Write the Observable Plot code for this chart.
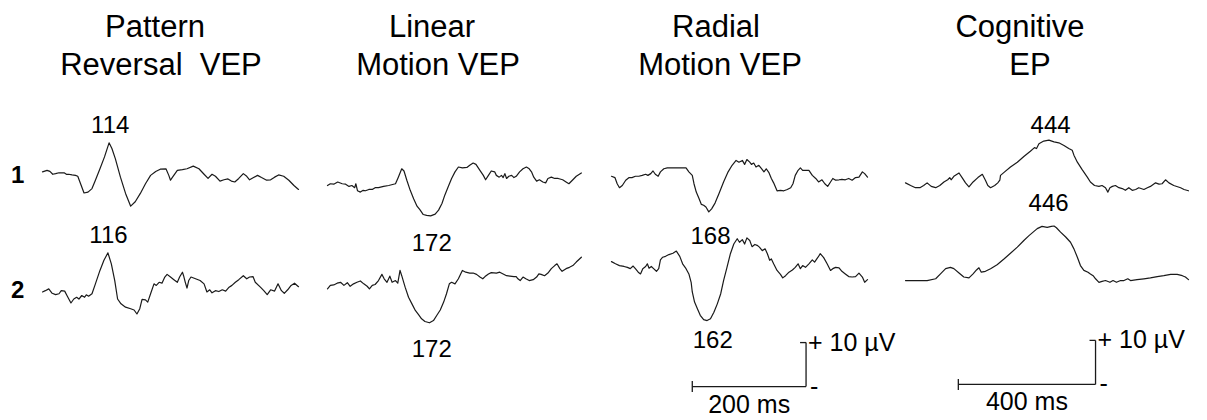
<!DOCTYPE html>
<html><head><meta charset="utf-8">
<script src="https://cdn.jsdelivr.net/npm/d3@7"></script>
<script src="https://cdn.jsdelivr.net/npm/@observablehq/plot@0.6"></script>
<style>
body{margin:0;background:#fff;}
#fig{position:relative;width:1207px;height:420px;overflow:hidden;background:#fff;font-family:"Liberation Sans",Arial,sans-serif;color:#000;}
.title{position:absolute;width:400px;text-align:center;font-size:31px;line-height:31px;white-space:pre;}
.rowlab{position:absolute;font-size:24px;line-height:24px;font-weight:bold;}
.panel{position:absolute;top:100px;}
</style></head><body><div id="fig"></div>
<script>
// ---- data ----
const titles = [["Pattern","Reversal  VEP"],["Linear","Motion VEP"],["Radial","Motion VEP"],["Cognitive","EP"]];
const rowLabels = ["1","2"];
const rowOffsetUv = [28, 0];
const epochMs = [450, 450, 450, 825];

const patternRow1 = [[0,0.1],[8,0.45],[13,0.2],[18,-0.45],[23,-0.3],[29,-0.1],[33,-0.15],[38,-0.1],[42,-0.45],[46,-0.45],[52,-0.6],[58,-0.7],[62,-0.9],[73,-4.7],[80,-4.5],[87,-3.7],[93,-1.8],[101,0.8],[109,3.5],[117,6.7],[122,5.4],[128,3.1],[137,-1.1],[146,-4.8],[155,-7.7],[163,-6.7],[172,-4.8],[181,-2.6],[190,-0.7],[199,0.2],[207,0.7],[217,0.8],[222,-0.7],[225,-1.8],[228,-1.2],[237,0.45],[246,0.6],[254,0.8],[265,1.4],[275,0.8],[284,-0.45],[291,-1.4],[298,-0.45],[304,-0.9],[312,-2.0],[319,-1.7],[326,-1.5],[332,-2.0],[338,-2.2],[345,-1.4],[353,-0.3],[359,-0.9],[364,-1.7],[371,-1.2],[378,-0.7],[385,-1.2],[394,-1.8],[401,-1.7],[408,-1.1],[415,-0.6],[424,-0.9],[433,-1.8],[442,-3.0],[450,-3.9]];
const patternRow2 = [[0,0.8],[5,1.1],[11,1.5],[17,0.5],[23,0.2],[29,0.4],[33,1.1],[39,1.0],[43,0],[50,-1.7],[55,-0.8],[60,-0.4],[64,-0.8],[69,0],[74,-0.4],[77,0.15],[81,-0.15],[87,0.4],[93,2.65],[101,5.7],[108,8.0],[115,9.7],[121,7.2],[127,3.4],[132,-0.8],[138,-1.9],[146,-2.65],[155,-3.0],[161,-3.3],[166,-4.2],[171,-3.0],[175,-0.9],[181,-1.0],[185,-1.5],[190,0.4],[196,2.65],[200,2.3],[205,3.0],[210,2.8],[215,4.2],[219,4.8],[225,4.2],[231,3.6],[237,3.0],[241,4.2],[246,5.3],[248,4.5],[251,3.0],[254,1.7],[257,3.4],[261,4.2],[269,3.8],[277,3.4],[284,2.65],[289,0.8],[294,1.3],[298,0.6],[304,1.1],[310,0.9],[316,1.3],[322,1.0],[328,1.9],[333,2.3],[339,3.0],[345,3.6],[353,4.5],[359,3.8],[364,4.2],[370,4.3],[374,3.0],[383,1.9],[389,1.1],[395,0.2],[401,1.3],[408,1.0],[414,2.65],[420,1.1],[425,0.5],[431,1.3],[437,2.3],[443,2.8],[450,2.0]];
const linearRow1 = [[0,-3.0],[5,-2.6],[11,-2.7],[18,-2.2],[26,-2.6],[32,-2.7],[38,-3.2],[43,-3.0],[48,-3.5],[50,-2.6],[53,-4.2],[58,-4.5],[63,-4.1],[67,-4.2],[73,-3.9],[79,-3.9],[84,-3.5],[90,-3.5],[99,-3.2],[108,-3.0],[120,-2.6],[125,-1.1],[131,0.8],[135,0.3],[140,-1.8],[146,-4.1],[152,-6.0],[158,-7.7],[163,-8.5],[169,-9.6],[175,-9.8],[182,-9.9],[190,-9.5],[196,-8.6],[202,-7.1],[207,-5.2],[213,-3.3],[219,-1.4],[225,0.1],[231,1.2],[238,1.0],[246,1.1],[251,1.6],[257,2.1],[262,1.8],[269,0.45],[275,-0.7],[279,-1.7],[284,-0.7],[289,0.3],[295,0.1],[298,-0.7],[303,-1.1],[307,-0.7],[310,-1.2],[313,-0.3],[316,-1.4],[320,-0.9],[325,-0.7],[329,-1.2],[333,-0.9],[339,0.1],[345,0.8],[351,1.2],[356,0.8],[360,0.1],[364,-1.1],[369,-2.0],[374,-1.7],[380,-2.2],[385,-2.4],[389,-1.4],[395,-1.1],[401,-1.4],[407,-1.4],[415,-1.7],[421,-2.2],[426,-2.6],[433,-1.7],[439,-0.9],[448,-0.15]];
const linearRow2 = [[0,1.5],[5,2.3],[11,2.4],[17,2.8],[23,3.0],[29,2.3],[35,2.9],[40,2.1],[46,2.65],[52,3.0],[58,3.3],[64,2.65],[70,2.1],[74,1.5],[79,2.3],[84,2.5],[90,3.4],[96,4.8],[100,3.8],[105,3.0],[110,4.4],[114,3.0],[120,3.4],[124,2.8],[128,5.7],[131,4.5],[137,1.9],[143,-0.4],[149,-1.9],[155,-3.4],[161,-4.4],[166,-5.3],[172,-5.9],[180,-6.2],[187,-5.7],[193,-4.5],[199,-3.3],[205,-1.5],[210,0.4],[215,2.65],[219,3.0],[225,2.65],[231,3.8],[235,4.9],[238,5.7],[244,5.3],[251,5.1],[257,5.1],[263,4.8],[269,4.2],[274,3.8],[278,4.3],[284,4.9],[289,5.2],[298,5.1],[304,5.3],[310,4.9],[316,4.5],[322,4.4],[329,4.3],[333,4.3],[336,3.8],[340,3.4],[345,4.2],[350,3.8],[356,3.4],[363,3.6],[369,4.2],[373,4.9],[377,4.8],[383,4.5],[389,5.1],[395,6.1],[401,6.8],[405,7.2],[410,6.1],[414,5.5],[421,6.1],[427,6.4],[433,6.8],[439,7.6],[448,8.7]];
const radialRow1 = [[0,-0.9],[6,-1.2],[10,-2.6],[14,-3.5],[19,-3.0],[25,-1.8],[31,-1.2],[36,-1.2],[42,-0.9],[48,-0.9],[54,-0.7],[60,-0.45],[64,-0.7],[69,-0.3],[73,0.3],[77,-0.45],[82,-0.9],[86,0.1],[92,0.8],[98,1.0],[107,1.0],[115,1.0],[124,1.0],[131,1.0],[136,0.1],[142,-0.7],[145,-2.6],[149,-4.5],[154,-6.0],[158,-7.3],[162,-7.5],[166,-7.9],[171,-9.0],[176,-8.3],[182,-7.0],[189,-4.8],[197,-2.2],[205,0.1],[212,1.6],[219,2.7],[224,2.3],[230,2.7],[234,1.8],[238,2.9],[243,2.3],[246,1.8],[250,2.1],[254,1.2],[259,1.6],[264,0.8],[268,0.1],[272,0.8],[277,-0.15],[281,-1.4],[285,-2.4],[291,-4.2],[297,-4.1],[303,-4.2],[309,-3.9],[315,-3.5],[319,-2.6],[323,-0.7],[328,0.45],[332,1.0],[336,0.45],[341,0.45],[347,0.45],[353,-0.7],[359,-1.4],[364,-2.2],[370,-1.7],[375,-2.6],[380,-3.2],[385,-2.2],[389,-1.4],[394,-1.8],[400,-1.7],[405,-1.6],[411,-1.7],[417,-1.4],[423,-1.8],[429,-1.2],[435,-1.1],[441,0.1],[445,-0.3],[450,-1.1]];
const radialRow2 = [[0,7.7],[7,7.2],[14,6.8],[22,6.6],[28,6.4],[33,6.1],[38,6.7],[42,6.1],[47,5.3],[51,4.9],[55,6.1],[60,6.6],[63,7.2],[66,6.2],[70,6.6],[74,6.1],[79,5.5],[83,6.1],[86,8.1],[90,8.7],[95,8.9],[101,9.3],[108,9.6],[114,10.1],[120,8.9],[125,7.2],[131,6.1],[136,4.9],[140,3.0],[142,0.8],[146,-1.5],[151,-3.0],[156,-4.5],[162,-5.5],[168,-5.7],[174,-5.3],[180,-3.8],[186,-1.9],[192,0.4],[197,3.4],[203,6.4],[209,9.5],[215,11.7],[221,12.9],[225,12.1],[230,12.7],[234,11.7],[238,13.1],[243,12.5],[247,11.1],[252,11.6],[256,11.4],[260,11.0],[265,10.2],[270,10.6],[274,9.5],[278,8.0],[281,8.3],[285,7.2],[291,5.7],[297,4.8],[301,4.0],[306,4.5],[312,5.3],[318,5.8],[323,6.4],[328,7.2],[332,6.1],[336,6.8],[341,6.4],[347,7.2],[353,8.1],[357,7.6],[363,8.7],[367,9.5],[373,8.6],[379,7.2],[385,5.7],[389,6.1],[394,6.4],[400,6.3],[405,5.5],[411,4.9],[417,4.3],[423,4.2],[429,4.3],[435,5.1],[441,4.2],[445,3.0],[450,3.6]];
const cognitiveRow1 = [[0,-2.4],[15,-3.0],[29,-3.5],[42,-3.5],[53,-3.0],[63,-2.4],[75,-3.2],[88,-3.5],[100,-3.0],[112,-2.2],[123,-1.7],[129,-1.2],[133,-1.7],[141,-0.9],[156,-0.15],[165,-1.2],[175,-2.4],[185,-3.3],[197,-2.2],[211,-1.2],[224,-0.45],[233,-1.8],[240,-3.0],[248,-3.5],[260,-3.0],[269,-2.4],[275,-1.8],[277,-0.7],[289,0.1],[306,1.2],[326,2.3],[345,3.6],[364,4.8],[376,5.6],[382,5.4],[389,6.5],[403,7.1],[418,7.3],[433,6.9],[447,6.7],[462,6.1],[476,5.4],[486,5.0],[491,3.9],[501,2.3],[515,0.6],[530,-1.1],[539,-2.2],[551,-3.0],[564,-3.2],[573,-3.0],[583,-3.5],[590,-4.5],[596,-3.5],[603,-3.2],[612,-3.0],[622,-3.5],[632,-3.7],[641,-4.1],[651,-3.5],[661,-4.1],[671,-3.9],[680,-3.5],[695,-3.9],[705,-3.5],[714,-3.2],[729,-2.4],[739,-2.7],[748,-2.6],[758,-1.7],[768,-2.4],[782,-3.0],[802,-3.5],[812,-3.9],[825,-4.2]];
const cognitiveRow2 = [[0,3.4],[34,3.4],[63,3.4],[88,3.8],[102,4.9],[117,6.1],[131,6.4],[141,6.1],[156,5.1],[170,4.2],[185,4.0],[197,4.9],[207,5.8],[214,6.3],[221,5.3],[233,5.5],[248,6.1],[267,7.0],[287,8.3],[306,9.6],[326,11.0],[345,12.5],[360,13.6],[372,14.4],[384,15.2],[398,15.7],[413,15.5],[425,15.7],[433,15.8],[440,15.4],[452,14.4],[467,13.3],[481,12.1],[491,10.6],[501,8.7],[510,6.8],[520,5.7],[532,5.3],[539,4.9],[547,4.5],[554,3.8],[564,3.0],[573,3.2],[583,3.4],[596,3.0],[605,3.4],[615,3.0],[627,3.4],[637,3.4],[648,3.8],[656,3.4],[675,3.6],[695,3.8],[714,4.0],[734,4.3],[753,4.5],[773,4.8],[792,4.8],[807,4.5],[816,4.2],[825,3.6]];

// peak latency labels (text, row, position in ms / µV relative to the row baseline)
const patternPeaks = [{label:"114",row:1,t:119,v:9.0},{label:"116",row:2,t:116,v:12.0}];
const linearPeaks = [{label:"172",row:1,t:184,v:-17.8},{label:"172",row:2,t:184,v:-13.9}];
const radialPeaks = [{label:"168",row:1,t:174,v:-16.4},{label:"162",row:2,t:178,v:-12.0}];
const cognitivePeaks = [{label:"444",row:1,t:423,v:9.0},{label:"446",row:2,t:417,v:19.3}];

// calibration bars (ms and µV), anchored below row 2
const radialBar = {ms:200, uv:10, t0:142, v0:-20.7};
const cognitiveBar = {ms:400, uv:10, t0:154, v0:-20.2};

// ---- layout ----
const panels = [
  {rows:[patternRow1, patternRow2], peaks:patternPeaks, bar:null},
  {rows:[linearRow1, linearRow2], peaks:linearPeaks, bar:null},
  {rows:[radialRow1, radialRow2], peaks:radialPeaks, bar:radialBar},
  {rows:[cognitiveRow1, cognitiveRow2], peaks:cognitivePeaks, bar:cognitiveBar}
];
const geom = [
  {left:0, width:310, mL:42, mR:12},
  {left:310, width:290, mL:17, mR:18},
  {left:600, width:305, mL:11, mR:38},
  {left:895, width:312, mL:10, mR:19}
];
const titleCenters = [[155,161],[432,438],[716,720],[1020,1030]];
const titleTops = [10.7, 48.7];
const rowLabelTops = [162.5, 277.5];

const FONT = '"Liberation Sans", Arial, sans-serif';
const PX_PER_UV = 4.4, H = 320, ROW2_BASE = 195;
const yMax = ROW2_BASE / PX_PER_UV, yMin = yMax - H / PX_PER_UV;
const fig = document.getElementById("fig");

titles.forEach((lines, i) => {
  lines.forEach((txt, j) => {
    const d = document.createElement("div");
    d.className = "title";
    d.textContent = txt;
    d.style.left = (titleCenters[i][j] - 200) + "px";
    d.style.top = titleTops[j] + "px";
    fig.appendChild(d);
  });
});
rowLabels.forEach((txt, r) => {
  const d = document.createElement("div");
  d.className = "rowlab";
  d.textContent = txt;
  d.style.left = "11px";
  d.style.top = rowLabelTops[r] + "px";
  fig.appendChild(d);
});

panels.forEach((p, i) => {
  const g = geom[i];
  const epoch = epochMs[i];
  const pxPerMs = (g.width - g.mL - g.mR) / epoch;
  const data = p.rows.flatMap((arr, r) => arr.map(([t, v]) => ({row: r + 1, t, y: v + rowOffsetUv[r]})));
  const marks = [
    Plot.line(data, {x:"t", y:"y", z:"row", stroke:"#1a1a1a", strokeWidth:1.2, strokeLinejoin:"round"}),
    Plot.text(p.peaks, {x:"t", y:d => d.v + rowOffsetUv[d.row - 1], text:"label", fontSize:24, lineAnchor:"bottom", textAnchor:"middle", fill:"#000"})
  ];
  if (p.bar) {
    const b = p.bar, t1 = b.t0 + b.ms, top = b.v0 + b.uv;
    const tickUv = 5.5 / PX_PER_UV, tickMs = 6 / pxPerMs;
    const segs = [
      {x1:b.t0, x2:t1, y1:b.v0, y2:b.v0},
      {x1:b.t0, x2:b.t0, y1:b.v0 - tickUv, y2:b.v0 + tickUv},
      {x1:t1, x2:t1, y1:b.v0, y2:top},
      {x1:t1 - tickMs, x2:t1, y1:top, y2:top}
    ];
    marks.push(
      Plot.link(segs, {x1:"x1", x2:"x2", y1:"y1", y2:"y2", stroke:"#1a1a1a", strokeWidth:1.3}),
      Plot.text([b], {x:() => t1, y:() => top, text:() => `+ ${b.uv} µV`, fontSize:25, textAnchor:"start", lineAnchor:"middle", dx:2, fill:"#000"}),
      Plot.text([b], {x:() => t1, y:() => b.v0, text:() => "-", fontSize:25, textAnchor:"start", lineAnchor:"middle", dx:4, fill:"#000"}),
      Plot.text([b], {x:() => b.t0 + b.ms / 2, y:() => b.v0, text:() => `${b.ms} ms`, fontSize:25, textAnchor:"middle", lineAnchor:"bottom", dy:26, fill:"#000"})
    );
  }
  const svg = Plot.plot({
    width: g.width, height: H,
    marginLeft: g.mL, marginRight: g.mR, marginTop: 0, marginBottom: 0,
    x: {domain:[0, epoch], axis:null},
    y: {domain:[yMin, yMax], axis:null},
    style: {background:"transparent", overflow:"visible", fontFamily:FONT, color:"#000"},
    marks
  });
  const wrap = document.createElement("div");
  wrap.className = "panel";
  wrap.style.left = g.left + "px";
  wrap.appendChild(svg);
  fig.appendChild(wrap);
});
</script></body></html>
